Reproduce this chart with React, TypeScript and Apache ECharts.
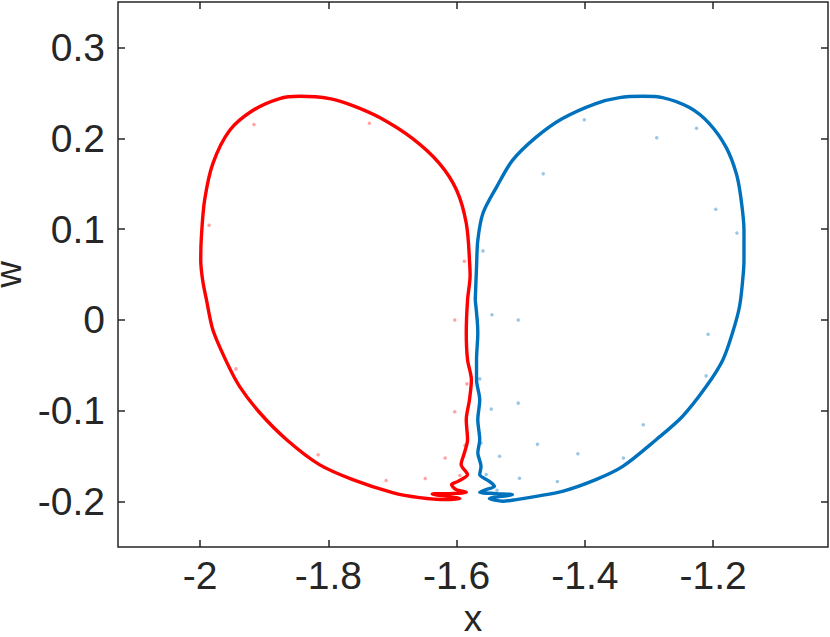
import React, { useEffect, useRef } from "react";
import * as echarts from "echarts";

// Red attractor loop (x, w), traced in order
const redLoopX = [-1.580,-1.585,-1.600,-1.627,-1.669,-1.720,-1.762,-1.798,-1.845,-1.876,-1.918,-1.954,-1.980,-1.993,-1.998,-1.999,-1.996,-1.990,-1.980,-1.958,-1.938,-1.907,-1.865,-1.814,-1.762,-1.700,-1.658,-1.616,-1.595,-1.638,-1.611,-1.585,-1.601,-1.608,-1.598,-1.583,-1.593,-1.588,-1.583,-1.585,-1.580,-1.577,-1.583,-1.585,-1.583,-1.579,-1.580];
const redLoopW = [0.0658,0.1064,0.1427,0.1723,0.1998,0.2228,0.2360,0.2437,0.2462,0.2437,0.2305,0.2085,0.1723,0.1317,0.0914,0.0658,0.0438,0.0219,-0.0111,-0.0473,-0.0737,-0.1022,-0.1319,-0.1593,-0.1758,-0.1901,-0.1956,-0.1978,-0.1967,-0.1917,-0.1912,-0.1898,-0.1868,-0.1813,-0.1777,-0.1703,-0.1593,-0.1465,-0.1319,-0.1099,-0.0880,-0.0660,-0.0440,-0.0144,0.0219,0.0493,0.0658];

// Blue attractor loop (x, w), traced in order
const blueLoopX = [-1.571,-1.569,-1.567,-1.559,-1.538,-1.513,-1.476,-1.435,-1.383,-1.346,-1.310,-1.279,-1.237,-1.206,-1.180,-1.164,-1.157,-1.152,-1.152,-1.154,-1.159,-1.170,-1.185,-1.211,-1.248,-1.289,-1.341,-1.383,-1.435,-1.476,-1.507,-1.528,-1.549,-1.513,-1.538,-1.564,-1.554,-1.541,-1.549,-1.564,-1.562,-1.567,-1.564,-1.567,-1.564,-1.569,-1.569,-1.567,-1.571];
const blueLoopW = [0.0219,0.0581,0.0877,0.1174,0.1459,0.1756,0.2012,0.2217,0.2382,0.2448,0.2462,0.2448,0.2338,0.2162,0.1902,0.1613,0.1353,0.0987,0.0658,0.0438,0.0145,-0.0144,-0.0440,-0.0734,-0.1063,-0.1319,-0.1612,-0.1758,-0.1887,-0.1942,-0.1978,-0.1996,-0.1967,-0.1923,-0.1912,-0.1898,-0.1868,-0.1832,-0.1777,-0.1703,-0.1612,-0.1465,-0.1319,-0.1099,-0.0880,-0.0660,-0.0440,-0.0144,0.0219];

// Stray points
const redStrayX = [-1.916,-1.736,-1.986,-1.588,-1.603,-1.944,-1.584,-1.603,-1.816,-1.587,-1.618,-1.649,-1.710,-1.595];
const redStrayW = [0.2151,0.2166,0.1042,0.0647,0.0,-0.0539,-0.0704,-0.1011,-0.1484,-0.1381,-0.152,-0.1747,-0.1769,-0.1714];
const blueStrayX = [-1.401,-1.465,-1.288,-1.226,-1.196,-1.163,-1.559,-1.545,-1.504,-1.208,-1.564,-1.211,-1.546,-1.504,-1.309,-1.562,-1.474,-1.533,-1.411,-1.340,-1.554,-1.502,-1.443,-1.537];
const blueStrayW = [0.2203,0.161,0.2005,0.2111,0.1218,0.0958,0.076,0.0057,0.0,-0.0158,-0.0649,-0.0616,-0.0982,-0.0916,-0.1154,-0.1355,-0.137,-0.1502,-0.1473,-0.152,-0.1703,-0.1744,-0.178,-0.1876];

const xTicks = [-2, -1.8, -1.6, -1.4, -1.2];
const wTicks = [-0.2, -0.1, 0, 0.1, 0.2, 0.3];

const zip = (a: number[], b: number[]) => a.map((v, i) => [v, b[i]]);

export default function App() {
  const ref = useRef<HTMLDivElement>(null);
  useEffect(() => {
    document.body.style.margin = "0";
    const chart = echarts.init(ref.current!, null, { renderer: "svg" });
    const axisColor = "#262626";
    const font = "'Liberation Sans', Arial, Helvetica, sans-serif";
    const xMin = -2.128, xMax = -1.021, wMin = -0.25, wMax = 0.35;
    const tickStyle = { color: axisColor, width: 1.5 };
    const hiddenLine = { show: false, onZero: false };
    chart.setOption({
      animation: false,
      backgroundColor: "#ffffff",
      grid: {
        left: 118, top: 2, right: 2, bottom: 90,
        show: true, borderColor: axisColor, borderWidth: 1.5,
        backgroundColor: "transparent",
        containLabel: false,
        outerBoundsMode: "none",
      },
      xAxis: [
        {
          type: "value", position: "bottom", min: xMin, max: xMax,
          splitLine: { show: false }, axisLine: hiddenLine,
          axisTick: { inside: true, length: 7, customValues: xTicks, lineStyle: tickStyle },
          axisLabel: { customValues: xTicks, fontSize: 39, color: axisColor, margin: 9, fontFamily: font },
          name: "x", nameLocation: "middle", nameGap: 42,
          nameTextStyle: { fontSize: 37, lineHeight: 37, color: axisColor, fontFamily: font },
        },
        {
          type: "value", position: "top", min: xMin, max: xMax,
          splitLine: { show: false }, axisLine: hiddenLine,
          axisTick: { inside: true, length: 7, customValues: xTicks, lineStyle: tickStyle },
          axisLabel: { show: false },
        },
      ],
      yAxis: [
        {
          type: "value", position: "left", min: wMin, max: wMax,
          splitLine: { show: false }, axisLine: hiddenLine,
          axisTick: { inside: true, length: 7, customValues: wTicks, lineStyle: tickStyle },
          axisLabel: { customValues: wTicks, fontSize: 39, color: axisColor, margin: 13, fontFamily: font },
          name: "w", nameLocation: "middle", nameGap: 76,
          nameTextStyle: { fontSize: 37, lineHeight: 37, color: axisColor, fontFamily: font },
        },
        {
          type: "value", position: "right", min: wMin, max: wMax,
          splitLine: { show: false }, axisLine: hiddenLine,
          axisTick: { inside: true, length: 7, customValues: wTicks, lineStyle: tickStyle },
          axisLabel: { show: false },
        },
      ],
      series: [
        {
          type: "line", data: zip(redLoopX, redLoopW), showSymbol: false, smooth: 0.3,
          lineStyle: { color: "#ff0000", width: 3.4 }, z: 3,
        },
        {
          type: "line", data: zip(blueLoopX, blueLoopW), showSymbol: false, smooth: 0.3,
          lineStyle: { color: "#0072bd", width: 3.4 }, z: 3,
        },
        {
          type: "scatter", data: zip(redStrayX, redStrayW), symbolSize: 3.5,
          itemStyle: { color: "rgba(255,0,0,0.45)" },
        },
        {
          type: "scatter", data: zip(blueStrayX, blueStrayW), symbolSize: 3.5,
          itemStyle: { color: "rgba(0,114,189,0.5)" },
        },
      ],
    });
    return () => chart.dispose();
  }, []);
  return (
    <div
      ref={ref}
      style={{ position: "fixed", left: 0, top: 0, width: 830, height: 637 }}
    />
  );
}
